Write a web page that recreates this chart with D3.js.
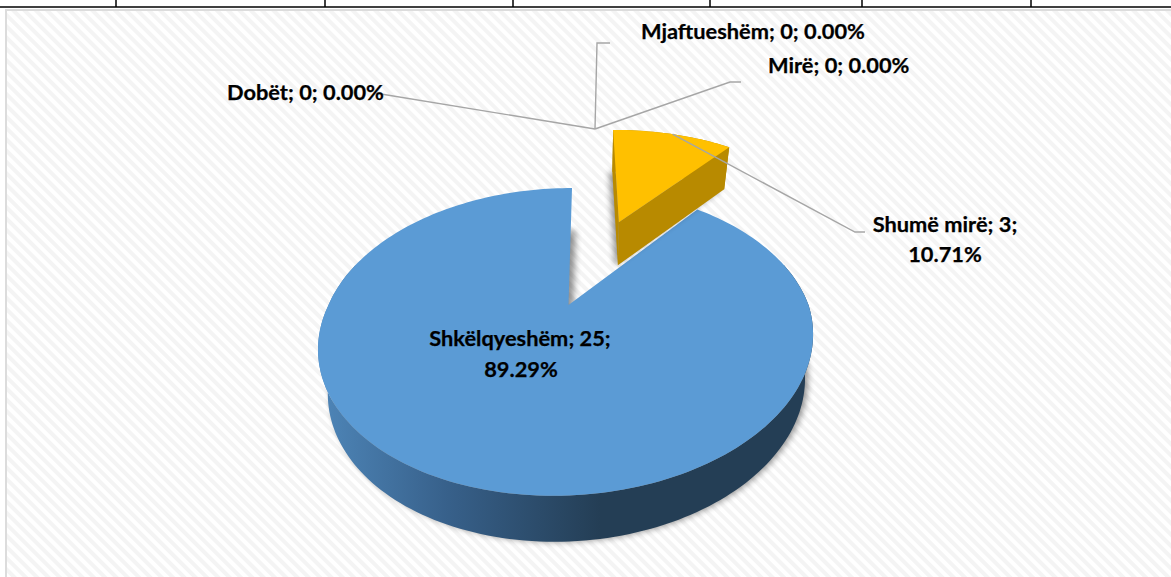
<!DOCTYPE html>
<html>
<head>
<meta charset="utf-8">
<script src="https://cdn.jsdelivr.net/npm/d3@7"></script>
<style>
	html, body { margin: 0; padding: 0; background: #fff; overflow: hidden; }
	text { font-family: Lato, "Open Sans", sans-serif; font-weight: 700; font-size: 21.8px; fill: #000; stroke: #000; stroke-width: 0.25px; }
</style>
</head>
<body>
<svg></svg>
<script>
var categories = ["Dobët", "Mjaftueshëm", "Mirë", "Shumë mirë", "Shkëlqyeshëm"];
var counts = [0, 0, 0, 3, 25];
var percents = ["0.00", "0.00", "0.00", "10.71", "89.29"];
var tableEdges = [116, 325, 513, 710, 862, 1031];

function main() {
	var width = 1171,
		height = 577;

	var svg = d3.select("svg")
		.attr("width", width)
		.attr("height", height)
		.style("display", "block");

	var defs = svg.append("defs");

	var hatch = defs.append("pattern")
		.attr("id", "hatch")
		.attr("patternUnits", "userSpaceOnUse")
		.attr("width", 8)
		.attr("height", 8)
		.attr("patternTransform", "rotate(-45)");
	hatch.append("rect").attr("width", 8).attr("height", 8).attr("fill", "#ffffff");
	hatch.append("rect").attr("width", 4).attr("height", 8).attr("fill", "#f4f4f4");

	var sideGrad = defs.append("linearGradient")
		.attr("id", "blueSide")
		.attr("gradientUnits", "userSpaceOnUse")
		.attr("x1", 325).attr("x2", 600).attr("y1", 0).attr("y2", 0);
	sideGrad.append("stop").attr("offset", "0%").attr("stop-color", "#4d84b6");
	sideGrad.append("stop").attr("offset", "45%").attr("stop-color", "#37608a");
	sideGrad.append("stop").attr("offset", "100%").attr("stop-color", "#243e55");

	defs.append("filter")
		.attr("id", "soft")
		.attr("x", "-10%").attr("y", "-10%").attr("width", "120%").attr("height", "120%")
		.append("feGaussianBlur")
		.attr("stdDeviation", 3);

	// background and frame
	svg.append("rect")
		.attr("x", 6).attr("y", 10)
		.attr("width", width).attr("height", height)
		.attr("fill", "url(#hatch)")
		.attr("stroke", "#dcdcdc")
		.attr("stroke-width", 2);

	// table row above the chart
	svg.append("line")
		.attr("x1", 0).attr("x2", width)
		.attr("y1", 7).attr("y2", 7)
		.attr("stroke", "#000").attr("stroke-width", 1.5);
	svg.selectAll(".edge")
		.data(tableEdges)
		.enter().append("line")
		.attr("class", "edge")
		.attr("x1", function (d) { return d; })
		.attr("x2", function (d) { return d; })
		.attr("y1", 0).attr("y2", 7)
		.attr("stroke", "#000").attr("stroke-width", 1.5);

	// perspective of the tilted pie plane
	var tilt = 0.24;

	function top(p) {
		var w = 1 + tilt * p[1];
		var y = 305 - 145 * p[1] / w;
		var d = y - 305;
		var shear = d > 0 ? -0.08 * d : -0.03 * d;
		return [568.5 + 240 * p[0] / w + shear, y];
	}

	function low(p) {
		var t = top(p);
		return [590 + (t[0] - 590) * 0.964, t[1] * 1.011 + 40.5];
	}

	var slices = d3.pie().sort(null).value(function (d) { return d; })(counts);

	function arcPoints(s, off, radius) {
		var n = Math.max(2, Math.ceil((s.endAngle - s.startAngle) * 40));
		return d3.range(n + 1).map(function (i) {
			var a = s.startAngle + (s.endAngle - s.startAngle) * i / n;
			return [off[0] + radius * Math.sin(a), off[1] + radius * Math.cos(a)];
		});
	}

	var path = d3.line();

	function drawSlice(s, explode, radius, topColor, sideColor, cutWalls, shadowDx) {
		var mid = (s.startAngle + s.endAngle) / 2;
		var off = [explode * Math.sin(mid), explode * Math.cos(mid)];
		var rim = arcPoints(s, off, radius);
		var face = [off].concat(rim);
		var g = svg.append("g");

		g.append("path")
			.attr("d", path(face.map(low)) + "Z")
			.attr("transform", "translate(" + shadowDx + ",0)")
			.attr("fill", "#000")
			.attr("opacity", 0.42)
			.attr("filter", "url(#soft)");

		// outer wall as one band, the top face covers what is hidden
		var wallRim = cutWalls ? rim : rim.filter(function (p) { return p[1] < 0.3; });
		g.append("path")
			.attr("d", path(wallRim.map(top).concat(wallRim.map(low).reverse())) + "Z")
			.attr("fill", sideColor);

		if (cutWalls) {
			[rim[0], rim[rim.length - 1]].forEach(function (p) {
				g.append("path")
					.attr("d", path([top(off), top(p), low(p), low(off)]) + "Z")
					.attr("fill", sideColor);
			});
		}

		g.append("path")
			.attr("d", path(face.map(top)) + "Z")
			.attr("fill", topColor);

		return off;
	}

	var bluePart = slices[4];
	var yellowPart = slices[3];
	drawSlice(bluePart, 0, 1, "#5b9bd5", "url(#blueSide)", false, 3);
	var yellowOff = drawSlice(yellowPart, 0.7, 1.04, "#ffc000", "#b88a00", true, -3);

	// leader lines
	var yellowMid = (yellowPart.startAngle + yellowPart.endAngle) / 2;
	var leaderStart = top([yellowOff[0] + 1.04 * Math.sin(yellowMid), yellowOff[1] + 1.04 * Math.cos(yellowMid)]);
	var leaders = [
		[[381, 94], [595, 129]],
		[[595, 129], [597, 43], [610, 43]],
		[[595, 129], [730, 82], [741, 82]],
		[leaderStart, [855, 232], [865, 232]]
	];
	svg.selectAll(".leader")
		.data(leaders)
		.enter().append("path")
		.attr("class", "leader")
		.attr("d", path)
		.attr("fill", "none")
		.attr("stroke", "#a6a6a6")
		.attr("stroke-width", 1.4);

	// labels
	function labelText(i) {
		return categories[i] + "; " + counts[i] + "; " + percents[i] + "%";
	}

	svg.append("text").attr("x", 227).attr("y", 100).text(labelText(0));
	svg.append("text").attr("x", 641).attr("y", 39).text(labelText(1));
	svg.append("text").attr("x", 768).attr("y", 73).text(labelText(2));

	svg.append("text").attr("x", 945).attr("y", 232).attr("text-anchor", "middle")
		.text(categories[3] + "; " + counts[3] + ";");
	svg.append("text").attr("x", 945).attr("y", 262).attr("text-anchor", "middle")
		.text(percents[3] + "%");
	svg.append("text").attr("x", 520).attr("y", 346).attr("text-anchor", "middle")
		.text(categories[4] + "; " + counts[4] + ";");
	svg.append("text").attr("x", 521).attr("y", 377).attr("text-anchor", "middle")
		.text(percents[4] + "%");
}

main();
</script>
</body>
</html>
